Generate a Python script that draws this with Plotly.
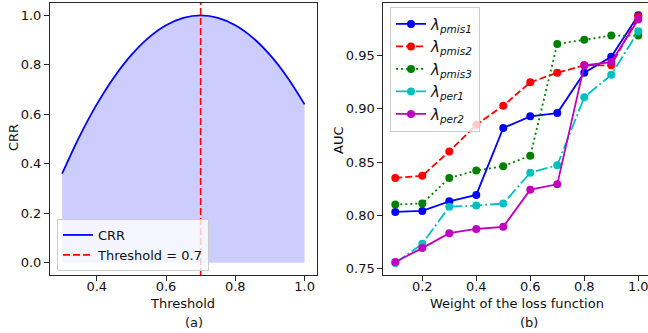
import plotly.graph_objects as go

# ---------- data ----------
threshold_x = [0.30, 0.35, 0.40, 0.45, 0.50, 0.55, 0.60, 0.65, 0.70, 0.75, 0.80, 0.85, 0.90, 0.95, 1.00]
crr_values = [0.36, 0.51, 0.64, 0.75, 0.84, 0.91, 0.96, 0.99, 1.00, 0.99, 0.96, 0.91, 0.84, 0.75, 0.64]
THRESHOLD = 0.7

weights = [0.1, 0.2, 0.3, 0.4, 0.5, 0.6, 0.7, 0.8, 0.9, 1.0]
pmis1 = [0.803, 0.804, 0.813, 0.819, 0.882, 0.893, 0.896, 0.934, 0.949, 0.988]
pmis2 = [0.835, 0.837, 0.860, 0.885, 0.903, 0.925, 0.934, 0.941, 0.941, 0.987]
pmis3 = [0.810, 0.811, 0.835, 0.842, 0.846, 0.856, 0.961, 0.965, 0.969, 0.969]
per1 = [0.755, 0.773, 0.808, 0.809, 0.811, 0.840, 0.847, 0.911, 0.932, 0.973]
per2 = [0.756, 0.769, 0.783, 0.787, 0.789, 0.824, 0.829, 0.941, 0.944, 0.984]

series_names = ["<i>λ<sub>pmis1</sub></i>", "<i>λ<sub>pmis2</sub></i>", "<i>λ<sub>pmis3</sub></i>",
                "<i>λ<sub>per1</sub></i>", "<i>λ<sub>per2</sub></i>"]
series_vals = [pmis1, pmis2, pmis3, per1, per2]
series_colors = ["#0000ff", "#ff0000", "#008000", "#00bfbf", "#bf00bf"]
series_dash = ["solid", "7px,3px", "2px,3px", "12px,3px,2px,3px", "solid"]

W, H = 648, 333
FONT = "DejaVu Sans"
TXT = "#111111"

def px(x):
    return x / W

def py(y):
    return 1 - y / H

fig = go.Figure()

# ---------- left panel ----------
fig.add_trace(go.Scatter(
    x=threshold_x, y=crr_values, mode="lines", line=dict(width=0, shape="spline"),
    fill="tozeroy", fillcolor="rgba(0,0,255,0.2)", showlegend=False, hoverinfo="skip",
    xaxis="x", yaxis="y"))
fig.add_trace(go.Scatter(
    x=threshold_x, y=crr_values, mode="lines", name="CRR",
    line=dict(color="#0000ff", width=1.8, shape="spline"),
    xaxis="x", yaxis="y", legend="legend"))
fig.add_trace(go.Scatter(
    x=[THRESHOLD, THRESHOLD], y=[-0.05, 1.05], mode="lines", name="Threshold = 0.7",
    line=dict(color="#ff0000", width=1.6, dash="7px,3px"),
    xaxis="x", yaxis="y", legend="legend"))

# ---------- right panel ----------
for name, vals, col, dash in zip(series_names, series_vals, series_colors, series_dash):
    fig.add_trace(go.Scatter(
        x=weights, y=vals, mode="lines+markers", name=name,
        line=dict(color=col, width=1.8, dash=dash),
        marker=dict(color=col, size=8, symbol="circle"),
        xaxis="x2", yaxis="y2", legend="legend2"))

axis_common = dict(
    showgrid=False, zeroline=False, showline=True, linecolor="#262626", linewidth=1,
    ticks="outside", ticklen=5, tickwidth=1, tickcolor="#262626", automargin=False,
    tickfont=dict(family=FONT, size=13, color=TXT), ticklabeloverflow="allow",
)

ydom = [py(275), py(3)]

fig.update_layout(
    width=W, height=H,
    margin=dict(l=0, r=0, t=0, b=0),
    paper_bgcolor="white", plot_bgcolor="white",
    font=dict(family=FONT, size=13, color=TXT),
    xaxis=dict(domain=[px(50), px(316.7)], range=[0.265, 1.035],
               tickvals=[0.4, 0.6, 0.8, 1.0], tickformat=".1f", ticklabelstandoff=-6,
               mirror=True, anchor="y", **axis_common),
    yaxis=dict(domain=ydom, range=[-0.05, 1.05],
               tickvals=[0.0, 0.2, 0.4, 0.6, 0.8, 1.0], tickformat=".1f",
               mirror=True, anchor="x", **axis_common),
    xaxis2=dict(domain=[px(383.3), 1.0], range=[0.0556, 1.036],
                tickvals=[0.2, 0.4, 0.6, 0.8, 1.0], tickformat=".1f", ticklabelstandoff=-6,
                mirror=True, anchor="y2", **axis_common),
    yaxis2=dict(domain=ydom, range=[0.7437, 0.9996],
                tickvals=[0.75, 0.80, 0.85, 0.90, 0.95], tickformat=".2f",
                mirror=False, anchor="x2", **axis_common),
    legend=dict(x=px(57), y=py(271), xanchor="left", yanchor="bottom",
                bgcolor="rgba(255,255,255,0.8)", bordercolor="#cccccc", borderwidth=1,
                font=dict(family=FONT, size=13, color=TXT),
                itemwidth=30, tracegroupgap=0),
    legend2=dict(x=px(390), y=py(6.7), xanchor="left", yanchor="top",
                 bgcolor="rgba(255,255,255,0.8)", bordercolor="#cccccc", borderwidth=1,
                 font=dict(family=FONT, size=15, color=TXT),
                 itemwidth=30, tracegroupgap=0),
    showlegend=True,
)

annots = [
    ("CRR", 13, 138, -90),
    ("Threshold", 183, 303, 0),
    ("(a)", 194, 322, 0),
    ("AUC", 338, 140, -90),
    ("Weight of the loss function", 516.7, 303, 0),
    ("(b)", 529, 322, 0),
]
for text, x, y, ang in annots:
    fig.add_annotation(text=text, x=px(x), y=py(y), xref="paper", yref="paper",
                       xanchor="center", yanchor="middle", showarrow=False,
                       textangle=ang, font=dict(family=FONT, size=13, color=TXT))

fig.write_html("out.html", config={"displayModeBar": False},
               post_script="document.body.style.margin='0';document.body.style.overflow='hidden';")
